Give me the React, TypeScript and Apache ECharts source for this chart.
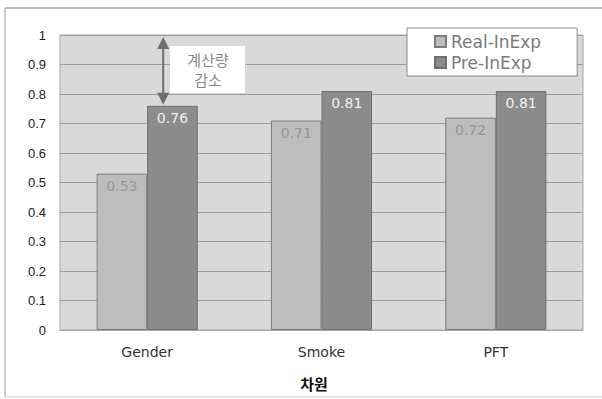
import React, { useEffect, useRef } from "react";
import * as echarts from "echarts";

const categories = ["Gender", "Smoke", "PFT"];
const realInExp = [0.53, 0.71, 0.72];
const preInExp = [0.76, 0.81, 0.81];
const seriesNames = ["Real-InExp", "Pre-InExp"];
const yTicks = { min: 0, max: 1, interval: 0.1 };
const annotationLines = ["계산량", "감소"];
const axisTitle = "차원";

export default function App() {
  const ref = useRef<HTMLDivElement>(null);
  useEffect(() => {
    document.body.style.margin = "0";
    const chart = echarts.init(ref.current!, null, { renderer: "svg" });
    const barLabel = (color: string) => ({
      show: true,
      position: "insideTop",
      distance: 5,
      color,
      fontSize: 14,
      fontFamily: "DejaVu Sans",
      formatter: (p: any) => p.value.toFixed(2),
    });
    chart.setOption({
      animation: false,
      backgroundColor: "#ffffff",
      grid: {
        left: 60,
        right: 19,
        top: 35,
        bottom: 69,
        show: true,
        backgroundColor: "#d9d9d9",
        borderColor: "#a6a6a6",
        borderWidth: 1,
      },
      legend: {
        orient: "vertical",
        left: 407,
        top: 28,
        padding: [5, 36, 5, 27],
        itemGap: 4,
        itemWidth: 11,
        itemHeight: 11,
        backgroundColor: "#ffffff",
        borderColor: "#8a8a8a",
        borderWidth: 1,
        icon: "rect",
        textStyle: { fontSize: 17, color: "#7a7a7a", fontFamily: "DejaVu Sans" },
        data: seriesNames,
      },
      xAxis: {
        type: "category",
        data: categories,
        axisTick: { show: false },
        axisLine: { lineStyle: { color: "#a6a6a6" } },
        axisLabel: { margin: 15, fontSize: 14, color: "#333", fontFamily: "DejaVu Sans" },
      },
      yAxis: {
        type: "value",
        min: yTicks.min,
        max: yTicks.max,
        interval: yTicks.interval,
        axisLine: { show: false },
        axisTick: { show: false },
        axisLabel: {
          margin: 14,
          fontSize: 13,
          color: "#222",
          fontFamily: "Liberation Sans",
          formatter: (v: number) => String(Math.round(v * 10) / 10),
        },
        splitLine: { lineStyle: { color: "#9c9c9c", width: 1 } },
      },
      series: [
        {
          name: seriesNames[0],
          type: "bar",
          data: realInExp,
          barGap: "0%",
          barCategoryGap: "42%",
          itemStyle: { color: "#bdbdbd", borderColor: "#7c7c7c", borderWidth: 1 },
          label: barLabel("#969696"),
        },
        {
          name: seriesNames[1],
          type: "bar",
          data: preInExp,
          barGap: "0%",
          barCategoryGap: "42%",
          itemStyle: { color: "#8c8c8c", borderColor: "#6e6e6e", borderWidth: 1 },
          label: barLabel("#f0f0f0"),
        },
      ],
    });

    const top = chart.convertToPixel({ gridIndex: 0 }, [0, yTicks.max]) as number[];
    const barTop = chart.convertToPixel({ gridIndex: 0 }, [0, preInExp[0]]) as number[];
    const ax = top[0] + 16;
    const y1 = top[1] + 2;
    const y2 = barTop[1] - 1;
    const head = 12;
    const arrowColor = "#6f6f6f";
    chart.setOption({
      graphic: [
        { type: "line", shape: { x1: 5, y1: 8, x2: 602, y2: 8 }, style: { stroke: "#777", lineWidth: 1 } },
        { type: "line", shape: { x1: 5, y1: 8, x2: 5, y2: 397 }, style: { stroke: "#999", lineWidth: 1 } },
        { type: "line", shape: { x1: 5, y1: 397, x2: 602, y2: 397 }, style: { stroke: "#ccc", lineWidth: 1 } },
        {
          type: "rect",
          shape: { x: 170, y: 46, width: 75, height: 47 },
          style: { fill: "#ffffff" },
          z: 100,
        },
        {
          type: "text",
          x: 208,
          y: 69,
          style: {
            text: annotationLines.join("\n"),
            fill: "#8a8a8a",
            fontSize: 15,
            lineHeight: 20,
            fontFamily: "Noto Sans CJK KR",
            align: "center",
            verticalAlign: "middle",
          },
          z: 101,
        },
        {
          type: "line",
          shape: { x1: ax, y1: y1 + head - 2, x2: ax, y2: y2 - head + 2 },
          style: { stroke: arrowColor, lineWidth: 2 },
          z: 100,
        },
        {
          type: "polygon",
          shape: { points: [[ax, y1], [ax - 6, y1 + head], [ax + 6, y1 + head]] },
          style: { fill: arrowColor },
          z: 100,
        },
        {
          type: "polygon",
          shape: { points: [[ax, y2], [ax - 6, y2 - head], [ax + 6, y2 - head]] },
          style: { fill: arrowColor },
          z: 100,
        },
        {
          type: "text",
          x: 314,
          y: 383,
          style: {
            text: axisTitle,
            fill: "#111",
            fontSize: 15,
            fontWeight: "bold",
            fontFamily: "Noto Sans CJK KR",
            align: "center",
            verticalAlign: "middle",
          },
        },
      ],
    });
    return () => chart.dispose();
  }, []);
  return (
    <div
      ref={ref}
      style={{ position: "fixed", left: 0, top: 0, width: 602, height: 399 }}
    />
  );
}
